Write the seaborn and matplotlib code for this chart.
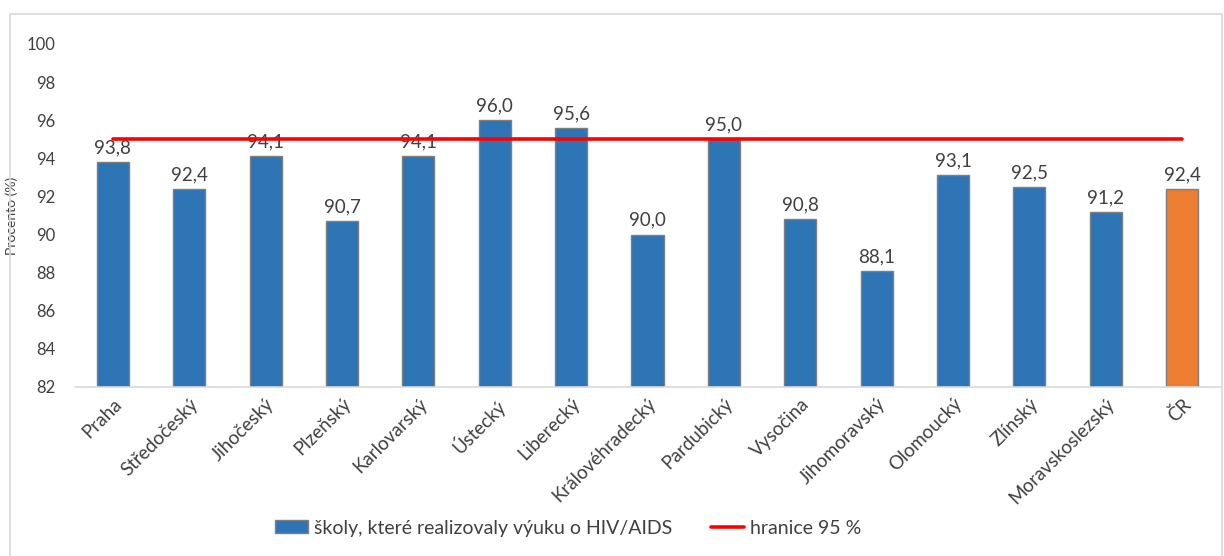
import numpy as np
import pandas as pd
import matplotlib
matplotlib.use('Agg')
import matplotlib.pyplot as plt
import seaborn as sns
from matplotlib.patches import Rectangle, Patch
from matplotlib.lines import Line2D

regions = ['Praha', 'Středočeský', 'Jihočeský', 'Plzeňský', 'Karlovarský', 'Ústecký',
           'Liberecký', 'Královéhradecký', 'Pardubický', 'Vysočina', 'Jihomoravský',
           'Olomoucký', 'Zlínský', 'Moravskoslezský', 'ČR']
values = [93.8, 92.4, 94.1, 90.7, 94.1, 96.0, 95.6, 90.0, 95.0, 90.8, 88.1, 93.1, 92.5, 91.2, 92.4]
threshold = [95.0] * len(regions)

blue = '#2e75b6'
orange = '#ed7d31'
text_col = '#404040'

df = pd.DataFrame({'kraj': regions, 'procento': values})
df['skupina'] = ['kraj'] * (len(regions) - 1) + ['CR']

sns.set_style('white')
plt.rcParams['font.family'] = ['Lato', 'DejaVu Sans']

fig = plt.figure(figsize=(12.24, 5.56), dpi=100)
ax = fig.add_axes([0.061, 0.304, 0.936, 0.617])

sns.barplot(data=df, x='kraj', y='procento', hue='skupina',
            palette={'kraj': blue, 'CR': orange}, dodge=False, saturation=1,
            width=0.42, edgecolor='#7f7f7f', linewidth=1.0,
            legend=False, ax=ax)

ax.set_ylim(82, 100)

ax.plot(np.arange(len(regions)), threshold, color='#ff0000', lw=2.6, zorder=5)

for i, v in enumerate(values):
    ax.text(i, v + 0.3, f'{v:.1f}'.replace('.', ','), ha='center', va='bottom',
            fontsize=13.5, color=text_col)

ax.set_xlim(-0.5, len(regions) - 0.5)
ax.set_yticks(np.arange(82, 101, 2))
ax.tick_params(axis='y', labelsize=12, labelcolor=text_col, length=0, pad=14)
ax.tick_params(axis='x', labelsize=13.5, labelcolor=text_col, length=0, pad=6)
plt.setp(ax.get_xticklabels(), rotation=45, ha='right', rotation_mode='anchor')
ax.set_xlabel('')
ax.set_ylabel('Procento (%)', fontsize=10, color=text_col, labelpad=6)

sns.despine(ax=ax, left=True)
ax.spines['bottom'].set_color('#d9d9d9')
ax.spines['bottom'].set_linewidth(1.2)

handles = [Patch(facecolor=blue, edgecolor='#7f7f7f', label='školy, které realizovaly výuku o HIV/AIDS'),
           Line2D([0], [0], color='#ff0000', lw=2.6, label='hranice 95 %')]
fig.legend(handles=handles, loc='center', bbox_to_anchor=(0.464, 0.05), ncol=2,
           frameon=False, fontsize=14, labelcolor=text_col, handlelength=1.7,
           handleheight=0.65, columnspacing=2.0, handletextpad=0.3)

fig.patches.append(Rectangle((0.008, -0.01), 0.99, 0.985, transform=fig.transFigure,
                             fill=False, edgecolor='#d9d9d9', lw=1.2))

fig.savefig('out.png', dpi=100, facecolor='white')
